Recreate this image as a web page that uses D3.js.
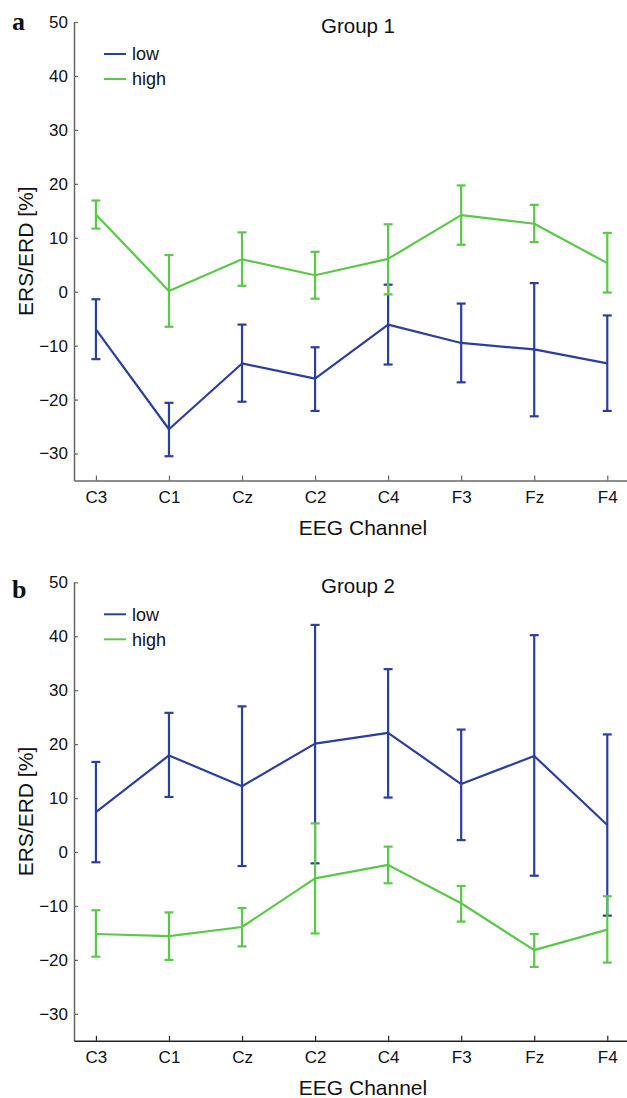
<!DOCTYPE html>
<html>
<head>
<meta charset="utf-8">
<script src="https://cdn.jsdelivr.net/npm/d3@7"></script>
<style>
  body { margin: 0; background: #fff; }
  text { fill: #111; }
</style>
</head>
<body>
<svg width="627" height="1098"></svg>
<script>
// channels and tick values
const channels = ["C3", "C1", "Cz", "C2", "C4", "F3", "Fz", "F4"];
const yTicks = [-30, -20, -10, 0, 10, 20, 30, 40, 50];
const seriesNames = ["low", "high"];

// Group 1 (panel a)
const g1LowMean  = [-7.0, -25.5, -13.3, -16.1, -6.1, -9.5, -10.7, -13.3];
const g1LowUpper = [-1.4, -20.6, -6.1, -10.3, 1.3, -2.2, 1.6, -4.4];
const g1LowLower = [-12.5, -30.5, -20.4, -22.1, -13.5, -16.8, -23.1, -22.1];
const g1HighMean  = [14.3, 0.15, 6.0, 3.05, 6.1, 14.2, 12.6, 5.3];
const g1HighUpper = [16.9, 6.8, 11.0, 7.4, 12.5, 19.7, 16.1, 10.9];
const g1HighLower = [11.7, -6.5, 1.1, -1.3, -0.5, 8.7, 9.2, -0.15];

// Group 2 (panel b)
const g2LowMean  = [7.4, 17.9, 12.2, 20.1, 22.1, 12.6, 17.8, 5.0];
const g2LowUpper = [16.7, 25.8, 27.0, 42.1, 33.9, 22.7, 40.2, 21.8];
const g2LowLower = [-1.9, 10.2, -2.6, -2.1, 10.1, 2.2, -4.4, -11.8];
const g2HighMean  = [-15.2, -15.6, -13.9, -4.9, -2.4, -9.5, -18.2, -14.4];
const g2HighUpper = [-10.8, -11.2, -10.4, 5.3, 1.0, -6.3, -15.2, -8.2];
const g2HighLower = [-19.4, -20.0, -17.5, -15.1, -5.8, -12.9, -21.3, -20.5];

const blue = "#2c3f9d", green = "#5cc84a";
const sans = "Liberation Sans, Arial, sans-serif";

const svg = d3.select("svg");

// x: channel index, y: ERS/ERD %
const x = d3.scaleLinear().domain([0.7, 8.3]).range([74, 629.2]);
const y = d3.scaleLinear().domain([-35, 50]).range([480.5, 22]);

function drawPanel(top, letter, title, low, high, xAxisColor) {
  const g = svg.append("g").attr("transform", `translate(0, ${top})`);

  // y axis
  const ya = g.append("g")
    .attr("transform", "translate(74,0)")
    .call(d3.axisLeft(y).tickValues(yTicks).tickSizeInner(-4).tickSizeOuter(0).tickPadding(6));
  ya.select(".domain").attr("stroke", "#666").attr("stroke-width", 1.5);
  ya.selectAll(".tick line").attr("stroke", "#666").attr("stroke-width", 1.2);
  ya.selectAll(".tick text").attr("font-size", 17).attr("font-family", sans).attr("fill", "#111");

  // x axis
  const xa = g.append("g")
    .attr("transform", `translate(0, ${y(-35)})`)
    .call(d3.axisBottom(x).tickValues(d3.range(1, 9)).tickFormat(i => channels[i - 1])
      .tickSizeInner(-5).tickSizeOuter(0).tickPadding(10));
  xa.select(".domain").attr("stroke", xAxisColor).attr("stroke-width", 1.5);
  xa.selectAll(".tick line").attr("stroke", xAxisColor).attr("stroke-width", 1.2);
  xa.selectAll(".tick text").attr("font-size", 17).attr("font-family", sans).attr("fill", "#111");

  // series: low first, high on top
  [low, high].forEach(s => {
    const pts = s.mean.map((m, i) => ({i: i + 1, m: m, up: s.upper[i], lo: s.lower[i]}));

    g.append("path")
      .datum(pts)
      .attr("fill", "none")
      .attr("stroke", s.color)
      .attr("stroke-width", 2.2)
      .attr("stroke-linejoin", "round")
      .attr("d", d3.line().x(d => x(d.i)).y(d => y(d.m)));

    const eb = g.append("g").attr("stroke", s.color).attr("stroke-width", 2.2);
    eb.selectAll(".bar").data(pts).join("line")
      .attr("x1", d => x(d.i)).attr("x2", d => x(d.i))
      .attr("y1", d => y(d.up)).attr("y2", d => y(d.lo));
    eb.selectAll(".capU").data(pts).join("line")
      .attr("x1", d => x(d.i) - 4.5).attr("x2", d => x(d.i) + 4.5)
      .attr("y1", d => y(d.up)).attr("y2", d => y(d.up));
    eb.selectAll(".capL").data(pts).join("line")
      .attr("x1", d => x(d.i) - 4.5).attr("x2", d => x(d.i) + 4.5)
      .attr("y1", d => y(d.lo)).attr("y2", d => y(d.lo));
  });

  // legend
  const leg = g.append("g");
  [low, high].forEach((s, k) => {
    const ly = 54 + k * 25;
    leg.append("line").attr("x1", 104).attr("x2", 126).attr("y1", ly).attr("y2", ly)
      .attr("stroke", s.color).attr("stroke-width", 2);
    leg.append("text").attr("x", 132).attr("y", ly).attr("dy", "0.35em")
      .style("font-family", sans).attr("font-size", 18).text(seriesNames[k]);
  });

  // title
  g.append("text").attr("x", 358).attr("y", 33).attr("text-anchor", "middle")
    .style("font-family", sans).attr("font-size", 20.5).text(title);

  // axis labels
  g.append("text").attr("x", 363).attr("y", 535).attr("text-anchor", "middle")
    .style("font-family", sans).attr("font-size", 21).text("EEG Channel");
  g.append("text")
    .attr("transform", `translate(33, ${(y(50) + y(-35)) / 2}) rotate(-90)`)
    .attr("text-anchor", "middle").style("font-family", sans).attr("font-size", 21).text("ERS/ERD [%]");

  // panel letter
  g.append("text").attr("x", 12).attr("y", letter === "a" ? 30 : 38)
    .style("font-family", "Liberation Serif, Times New Roman, serif")
    .attr("font-weight", "bold").attr("font-size", 26).text(letter);
}

drawPanel(0, "a", "Group 1",
  {mean: g1LowMean, upper: g1LowUpper, lower: g1LowLower, color: blue},
  {mean: g1HighMean, upper: g1HighUpper, lower: g1HighLower, color: green}, "#666");

drawPanel(560.3, "b", "Group 2",
  {mean: g2LowMean, upper: g2LowUpper, lower: g2LowLower, color: blue},
  {mean: g2HighMean, upper: g2HighUpper, lower: g2HighLower, color: green}, "#222");
</script>
</body>
</html>
